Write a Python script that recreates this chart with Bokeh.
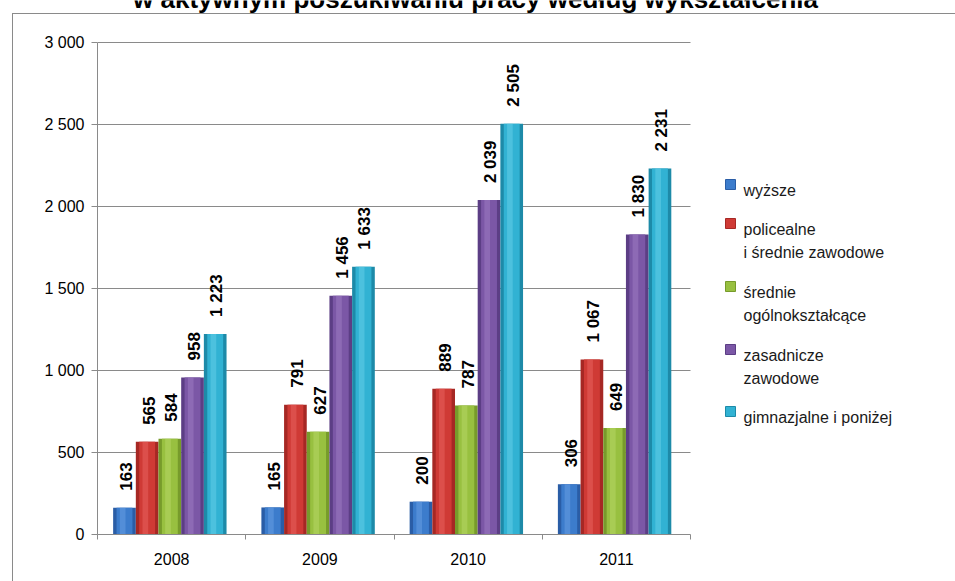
import math
from bokeh.plotting import figure
from bokeh.models import (ColumnDataSource, Range1d, FixedTicker, Label, InlineStyleSheet)
from bokeh.transform import dodge
from bokeh.core.properties import value
from bokeh.embed import file_html
from bokeh.resources import INLINE

# ---- data ----
years = ["2008", "2009", "2010", "2011"]
wyzsze = [163, 165, 200, 306]
policealne = [565, 791, 889, 1067]
srednie_ogolne = [584, 627, 787, 649]
zasadnicze = [958, 1456, 2039, 1830]
gimnazjalne = [1223, 1633, 2505, 2231]

series_names = ["wyższe", "policealne\ni średnie zawodowe", "średnie\nogólnokształcące",
                "zasadnicze\nzawodowe", "gimnazjalne i poniżej"]
series_keys = ["wyzsze", "policealne", "srednie", "zasadnicze", "gimnazjalne"]
series_vals = [wyzsze, policealne, srednie_ogolne, zasadnicze, gimnazjalne]
colors = ["#3c7ccc", "#cf3a35", "#98c040", "#7b57a6", "#31b2d3"]
dark = ["#2a5da6", "#a62824", "#779b2b", "#5c3e85", "#1d8aa8"]
light = ["#6fa3e6", "#ec6b66", "#bddb6c", "#a383c8", "#6fd3ec"]

y_ticks = [0, 500, 1000, 1500, 2000, 2500, 3000]
title_text = "w aktywnym poszukiwaniu pracy według wykształcenia"


def fmt(v):
    return "{:,}".format(v).replace(",", " ")


data = {"x": [i + 0.5 for i in range(len(years))]}
for k, vals in zip(series_keys, series_vals):
    data[k] = vals
    data[k + "_lbl"] = [fmt(v) for v in vals]
source = ColumnDataSource(data)

FONT = "Liberation Sans"

# ---- layout (pixels of the 955x581 picture) ----
W, H = 955, 581
PLOT_L, PLOT_R, PLOT_T, PLOT_B = 97, 690, 42, 534
n = len(years)
y_top = y_ticks[-1]
px_per_x = (PLOT_R - PLOT_L) / n
px_per_y = (PLOT_B - PLOT_T) / y_top


def px_x(xp):
    return (xp - PLOT_L) / px_per_x


def px_y(yp):
    return (PLOT_B - yp) / px_per_y


border_css = InlineStyleSheet(css="""
:host { position: relative; }
:host::after {
  content: ""; position: absolute; left: 12px; top: 13px; right: 0; bottom: 0;
  border-left: 1px solid #8a8a8a; border-top: 1px solid #8a8a8a;
  pointer-events: none;
}
""")

p = figure(width=W, height=H, output_backend="svg", toolbar_location=None,
           x_range=Range1d(0, px_x(W)), y_range=Range1d(0, px_y(0)),
           min_border_left=PLOT_L, min_border_top=0, min_border_right=0,
           min_border_bottom=H - PLOT_B)
p.stylesheets = [border_css]
p.outline_line_color = None
p.background_fill_color = "white"
p.border_fill_color = "white"
p.xgrid.grid_line_color = None
p.ygrid.grid_line_color = None

# horizontal gridlines, limited to the plot area
grid_src = ColumnDataSource({"y": y_ticks[1:]})
p.segment(x0=0, x1=n, y0="y", y1="y", source=grid_src, line_color="#8a8a8a", line_width=1)

bw = 0.153
offsets = [(i - 2) * bw - 0.012 for i in range(5)]

for k, c, d, l, off in zip(series_keys, colors, dark, light, offsets):
    p.vbar(x=dodge("x", off, range=p.x_range), top=k, width=bw, source=source,
           fill_color=d, line_color=None)
    p.vbar(x=dodge("x", off, range=p.x_range), top=k, width=bw * 0.7, source=source,
           fill_color=c, line_color=None)
    p.vbar(x=dodge("x", off - bw * 0.08, range=p.x_range), top=k, width=bw * 0.25,
           source=source, fill_color=l, fill_alpha=0.45, line_color=None)
    p.text(x=dodge("x", off + 0.01, range=p.x_range), y=k, text=k + "_lbl", source=source,
           angle=math.pi / 2, text_align="left", text_baseline="middle",
           y_offset=-17, text_font=value(FONT), text_font_style="bold",
           text_font_size="17px", text_color="black")

# axes
p.yaxis.bounds = (0, y_top)
p.yaxis.ticker = FixedTicker(ticks=y_ticks)
p.yaxis.major_label_overrides = {t: fmt(t) for t in y_ticks}
p.yaxis.major_label_text_font = FONT
p.yaxis.major_label_text_font_size = "16px"
p.yaxis.major_label_text_color = "black"
p.yaxis.axis_line_color = "#8a8a8a"
p.yaxis.major_tick_line_color = "#8a8a8a"
p.yaxis.major_tick_out = 6
p.yaxis.major_tick_in = 0
p.yaxis.minor_tick_line_color = None
p.yaxis.major_label_standoff = 7

p.xaxis.bounds = (0, n)
p.xaxis.ticker = FixedTicker(ticks=data["x"], minor_ticks=list(range(n + 1)))
p.xaxis.major_label_overrides = {x: y for x, y in zip(data["x"], years)}
p.xaxis.major_label_text_font = FONT
p.xaxis.major_label_text_font_size = "16px"
p.xaxis.major_label_text_color = "black"
p.xaxis.axis_line_color = "#8a8a8a"
p.xaxis.major_tick_line_color = None
p.xaxis.major_tick_out = 0
p.xaxis.major_tick_in = 0
p.xaxis.minor_tick_line_color = "#8a8a8a"
p.xaxis.minor_tick_out = 5
p.xaxis.minor_tick_in = 0
p.xaxis.major_label_standoff = 13

# legend (drawn manually to match the original line layout)
legend_lines = [[190], [229, 252], [292, 315], [355, 378], [417]]
sq_x, sq_y = [], []
for ys in legend_lines:
    sq_x.append(px_x(730))
    sq_y.append(px_y(ys[0] - 6))
p.rect(x=sq_x, y=sq_y, width=10, height=10, width_units="screen", height_units="screen",
       fill_color=colors, line_color=dark, line_width=1)
for name, ys in zip(series_names, legend_lines):
    for t, yp in zip(name.split("\n"), ys):
        p.add_layout(Label(x=px_x(743), y=px_y(yp), text=t, text_align="left",
                           text_baseline="middle", text_font=FONT,
                           text_font_size="16px", text_color="#1a1a1a"))

# title, cut off at the top edge as in the original
p.add_layout(Label(x=px_x(475), y=px_y(-2), text=title_text, text_align="center",
                   text_baseline="alphabetic", text_font=FONT, text_font_style="bold",
                   text_font_size="26px", text_color="black"))

open("out.html", "w").write(file_html(p, INLINE))
